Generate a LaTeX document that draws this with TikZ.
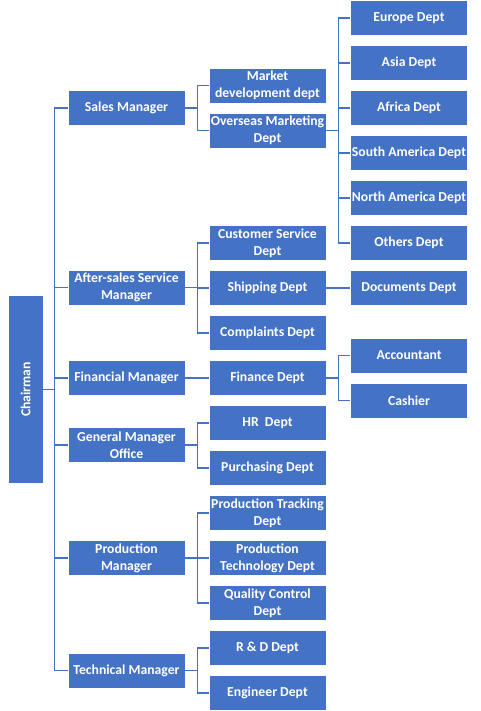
\documentclass[tikz,border=0pt]{standalone}
\usepackage{fontspec}
\setmainfont{Carlito}
\definecolor{orgblue}{RGB}{68,114,196}
\tikzset{orgchart/.style={x=1pt,y=-1pt},
  orgbox/.style={fill=orgblue,draw=white,line width=0.8pt,text=white,
    font=\bfseries\fontsize{13.7}{16.7}\selectfont,align=center,
    minimum width=117pt,minimum height=35pt,inner sep=1pt},
  orgline/.style={draw=orgblue,line width=1.3pt}}

\begin{document}
\begin{tikzpicture}[orgchart]
\useasboundingbox (0,0) rectangle (480,711);

% chairman
\node[orgbox,rotate=90,minimum width=188pt] (chair) at (25.5,389.5) {Chairman};

% managers
\node[orgbox] (sales) at (126.5,108) {Sales Manager};
\node[orgbox] (after) at (126.5,287.5) {After-sales Service\\Manager};
\node[orgbox] (fin) at (126.5,378) {Financial Manager};
\node[orgbox] (gmo) at (126.5,445) {General Manager\\Office};
\node[orgbox] (prod) at (126.5,558) {Production\\Manager};
\node[orgbox] (tech) at (126.5,670.5) {Technical Manager};

% departments
\node[orgbox] (market) at (267.5,85.5) {Market\\development dept};
\node[orgbox] (overseas) at (267.5,130.5) {Overseas Marketing\\Dept};
\node[orgbox] (cust) at (267.5,243) {Customer Service\\Dept};
\node[orgbox] (ship) at (267.5,288) {Shipping Dept};
\node[orgbox] (compl) at (267.5,333) {Complaints Dept};
\node[orgbox] (finance) at (267.5,378) {Finance Dept};
\node[orgbox] (hr) at (267.5,423) {HR\ \ Dept};
\node[orgbox] (purch) at (267.5,468) {Purchasing Dept};
\node[orgbox] (ptrack) at (267.5,513) {Production Tracking\\Dept};
\node[orgbox] (ptech) at (267.5,558) {Production\\Technology Dept};
\node[orgbox] (qc) at (267.5,603) {Quality Control\\Dept};
\node[orgbox] (rd) at (267.5,648) {R \& D Dept};
\node[orgbox] (eng) at (267.5,693) {Engineer Dept};

% sub departments
\node[orgbox] (europe) at (409,18) {Europe Dept};
\node[orgbox] (asia) at (409,63) {Asia Dept};
\node[orgbox] (africa) at (409,108) {Africa Dept};
\node[orgbox] (samerica) at (409,153) {South America Dept};
\node[orgbox] (namerica) at (409,198) {North America Dept};
\node[orgbox] (others) at (409,243) {Others Dept};
\node[orgbox] (docs) at (409,288) {Documents Dept};
\node[orgbox] (acct) at (409,355.5) {Accountant};
\node[orgbox] (cashier) at (409,400.5) {Cashier};

% trunk
\draw[orgline] (sales.west) -- ++(-13,0) coordinate (trunk) |- (tech.west);
\draw[orgline] (chair.south) -- (chair.south -| trunk);
\draw[orgline] (after.west) -- (after.west -| trunk)
               (fin.west) -- (fin.west -| trunk)
               (gmo.west) -- (gmo.west -| trunk)
               (prod.west) -- (prod.west -| trunk);

% managers to departments
\draw[orgline] (sales.east) -- ++(12,0) coordinate (sbus)
               (market.west) -| (sbus) (overseas.west) -| (sbus);
\draw[orgline] (after.east) -- ++(12,0) coordinate (abus)
               (cust.west) -| (abus) (ship.west) -| (abus) (compl.west) -| (abus);
\draw[orgline] (fin.east) -- (finance.west);
\draw[orgline] (gmo.east) -- ++(12,0) coordinate (gbus)
               (hr.west) -| (gbus) (purch.west) -| (gbus);
\draw[orgline] (prod.east) -- ++(12,0) coordinate (pbus)
               (ptrack.west) -| (pbus) (ptech.west) -| (pbus) (qc.west) -| (pbus);
\draw[orgline] (tech.east) -- ++(12,0) coordinate (tbus)
               (rd.west) -| (tbus) (eng.west) -| (tbus);

% departments to sub departments
\draw[orgline] (overseas.east) -- ++(12,0) coordinate (obus)
               (europe.west) -| (obus) (asia.west) -| (obus) (africa.west) -| (obus)
               (samerica.west) -| (obus) (namerica.west) -| (obus) (others.west) -| (obus);
\draw[orgline] (ship.east) -- (docs.west);
\draw[orgline] (finance.east) -- ++(12,0) coordinate (fbus)
               (acct.west) -| (fbus) (cashier.west) -| (fbus);

\end{tikzpicture}
\end{document}
